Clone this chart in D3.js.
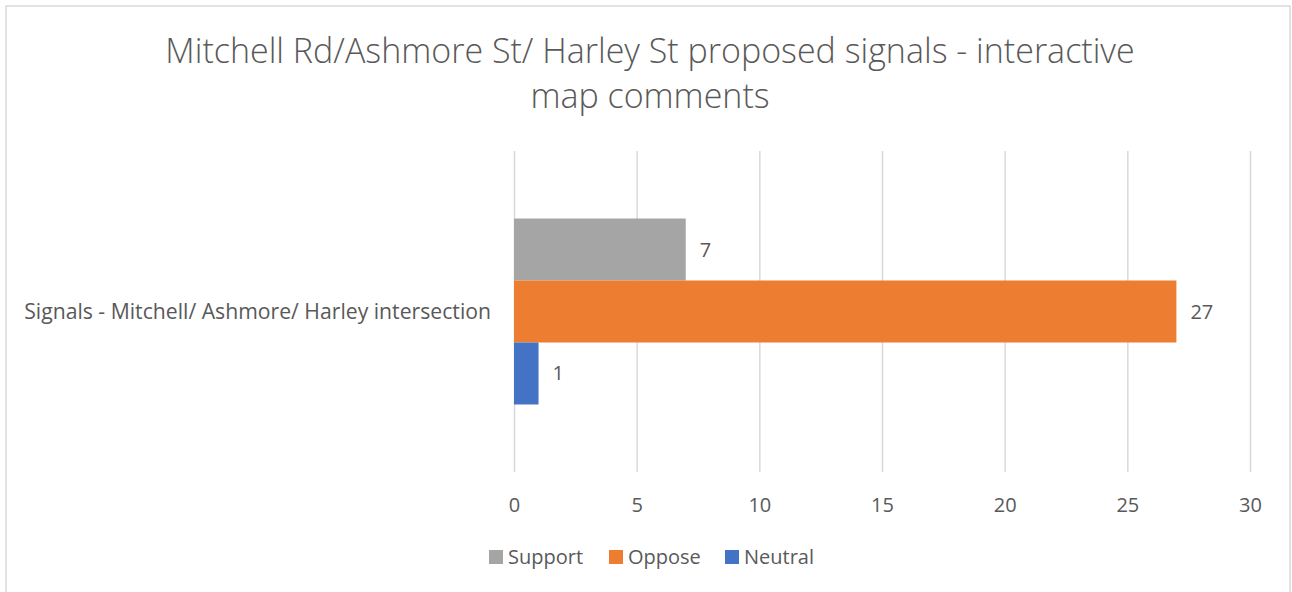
<!DOCTYPE html>
<html><head><meta charset="utf-8">
<script src="https://cdn.jsdelivr.net/npm/d3@7"></script>
<style>body{margin:0;background:#fff}svg{display:block}text{font-family:"Open Sans",sans-serif;fill:#595959}</style>
</head><body><svg id="c" width="1292" height="592"></svg>
<script>
const titleLines = ["Mitchell Rd/Ashmore St/ Harley St proposed signals - interactive", "map comments"];
const categories = ["Signals - Mitchell/ Ashmore/ Harley intersection"];
const seriesNames = ["Support", "Oppose", "Neutral"];
const seriesValues = [[7], [27], [1]];
const seriesColors = ["#A5A5A5", "#ED7D31", "#4472C4"];
const xTicks = [0, 5, 10, 15, 20, 25, 30];

const svg = d3.select("#c");
svg.append("rect").attr("x", 6).attr("y", 6).attr("width", 1284).attr("height", 620)
  .attr("fill", "#fff").attr("stroke", "#d9d9d9").attr("stroke-width", 1.5);

const m = {left: 514, right: 1250, top: 151, bottom: 472};
const x = d3.scaleLinear().domain([0, 30]).range([m.left, m.right]);
const y = d3.scaleBand().domain(categories).range([m.top, m.bottom]).paddingInner(0).paddingOuter(0.363);
const ys = d3.scaleBand().domain(seriesNames).range([0, y.bandwidth()]);

// title
svg.append("g").selectAll("text").data(titleLines).join("text")
  .attr("x", 650).attr("y", (d, i) => 63 + i * 45)
  .attr("text-anchor", "middle").style("font-size", "34px").style("font-weight", 300).text(d => d);

// gridlines
const xAxis = d3.axisBottom(x).tickValues(xTicks).tickSize(-(m.bottom - m.top)).tickPadding(12);
const gx = svg.append("g").attr("transform", `translate(0,${m.bottom})`).call(xAxis);
gx.select(".domain").remove();
gx.selectAll(".tick line").attr("stroke", "#d9d9d9").attr("stroke-width", 1.5);
gx.selectAll(".tick text").attr("fill", "#595959").style("font-size", "20px")
  .style("font-family", '"Open Sans",sans-serif').attr("y", 40).attr("dy", 0);

// bars
const data = [];
seriesNames.forEach((s, si) => categories.forEach((c, ci) => data.push({s, c, v: seriesValues[si][ci], color: seriesColors[si]})));
svg.append("g").selectAll("rect").data(data).join("rect")
  .attr("x", x(0)).attr("y", d => y(d.c) + ys(d.s))
  .attr("width", d => x(d.v) - x(0)).attr("height", ys.bandwidth())
  .attr("fill", d => d.color);

// data labels
svg.append("g").selectAll("text").data(data).join("text")
  .attr("x", d => x(d.v) + 14).attr("y", d => y(d.c) + ys(d.s) + ys.bandwidth() / 2)
  .attr("dy", "0.35em").style("font-size", "20px").text(d => d.v);

// category label
svg.append("g").selectAll("text").data(categories).join("text")
  .attr("x", 491).attr("y", d => y(d) + y.bandwidth() / 2).attr("dy", "0.35em")
  .attr("text-anchor", "end").style("font-size", "21.2px").text(d => d);

// legend
const legX = [489, 609, 725];
const lg = svg.append("g").selectAll("g").data(seriesNames).join("g")
  .attr("transform", (d, i) => `translate(${legX[i]},550)`);
lg.append("rect").attr("width", 14).attr("height", 14).attr("fill", (d, i) => seriesColors[i]);
lg.append("text").attr("x", 19).attr("y", 14).style("font-size", "20px").text(d => d);
</script></body></html>
